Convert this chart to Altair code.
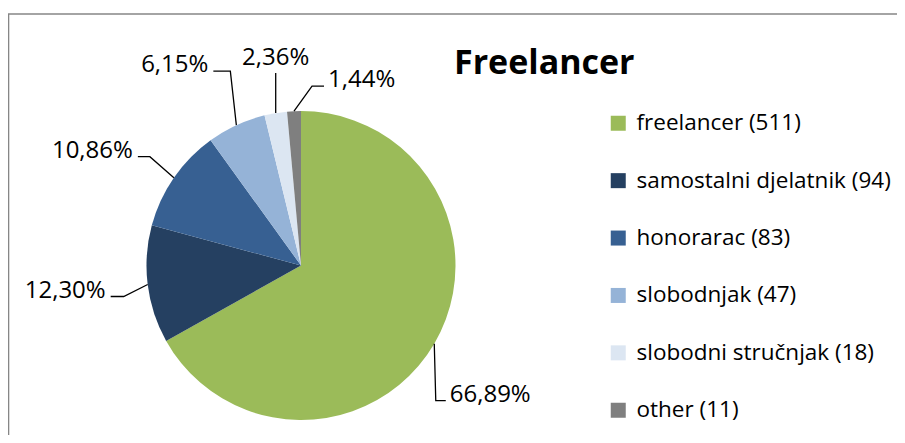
import math
import altair as alt
import pandas as pd

# ---- data ----
categories = ["freelancer", "samostalni djelatnik", "honorarac", "slobodnjak",
              "slobodni stručnjak", "other"]
counts = [511, 94, 83, 47, 18, 11]
percents = [66.89, 12.30, 10.86, 6.15, 2.36, 1.44]
colors = ["#9BBB59", "#254061", "#376092", "#95B3D7", "#DCE6F2", "#7F7F7F"]
title_text = "Freelancer"

# ---- label layout (leader offsets in px relative to slice edge) ----
leader_dx = [1.5, -24, -24, -6, 0, 18]
leader_dy = [57, 12, -21, -54, -40, -25]
stub = [10, -13, -12, -17, 0, 12]
side = ["right", "left", "left", "left", "center", "right"]

FONT = "Open Sans"
W, H = 889, 427
CX, CY, R = 293, 257.5, 154.5

total = sum(counts)
legend_labels = [f"{c} ({n})" for c, n in zip(categories, counts)]
pie = pd.DataFrame({
    "idx": list(range(len(categories))),
    "label": legend_labels,
    "count": counts,
})

# leader lines / labels derived from the slice angles
rows_line, rows_text = [], []
cum = 0
for i, n in enumerate(counts):
    mid = (cum + n / 2) / total
    cum += n
    a = 2 * math.pi * mid
    x0, y0 = CX + R * math.sin(a), CY - R * math.cos(a)
    x1, y1 = x0 + leader_dx[i], y0 + leader_dy[i]
    x2, y2 = x1 + stub[i], y1
    for k, (px, py) in enumerate([(x0, y0), (x1, y1), (x2, y2)]):
        rows_line.append({"s": i, "k": k, "x": px, "y": py})
    pct = f"{percents[i]:.2f}".replace(".", ",") + "%"
    if side[i] == "right":
        tx, ty = x2 + 4, y2 + 1
    elif side[i] == "left":
        tx, ty = x2 - 5, y2 + 1
    else:
        tx, ty = x2, y2 - 8
    rows_text.append({"s": i, "x": tx, "y": ty, "t": pct, "side": side[i]})
lines = pd.DataFrame(rows_line)
texts = pd.DataFrame(rows_text)

arcs = alt.Chart(pie).mark_arc(radius=R, stroke=None).encode(
    theta=alt.Theta("count:Q", stack=True),
    order=alt.Order("idx:Q", sort="ascending"),
    color=alt.Color(
        "label:N",
        scale=alt.Scale(domain=legend_labels, range=colors),
        sort=legend_labels,
        legend=alt.Legend(
            title=None, orient="none", legendX=599, legendY=104,
            symbolType="square", symbolSize=225, symbolStrokeWidth=0,
            labelFont=FONT, labelFontSize=22.5, labelColor="#000000",
            labelLimit=0, labelOffset=7, rowPadding=34.4, padding=0,
        ),
    ),
    x=alt.value(CX),
    y=alt.value(CY),
)

leaders = alt.Chart(lines).mark_line(color="#000000", strokeWidth=1.3).encode(
    x=alt.X("x:Q", scale=None),
    y=alt.Y("y:Q", scale=None),
    detail="s:N",
    order="k:Q",
)

def label_layer(sd, align, baseline):
    return alt.Chart(texts).transform_filter(
        alt.datum.side == sd
    ).mark_text(
        align=align, baseline=baseline, font=FONT, fontSize=24, color="#000000"
    ).encode(
        x=alt.X("x:Q", scale=None), y=alt.Y("y:Q", scale=None), text="t:N"
    )

labels = (label_layer("right", "left", "alphabetic")
          + label_layer("left", "right", "alphabetic")
          + label_layer("center", "center", "alphabetic"))

title = alt.Chart(pd.DataFrame({"t": [title_text]})).mark_text(
    align="left", baseline="alphabetic", font=FONT, fontSize=34,
    fontWeight="bold", color="#000000"
).encode(x=alt.value(446), y=alt.value(66), text="t:N")

frame = alt.Chart(pd.DataFrame({"a": [0]})).mark_rule(
    color="#868686", strokeWidth=1.6
)
frame_top = frame.encode(x=alt.value(0), x2=alt.value(W), y=alt.value(6))
frame_left = frame.encode(x=alt.value(0.5), y=alt.value(6), y2=alt.value(H))

chart = alt.layer(frame_top, frame_left, arcs, leaders, labels, title).properties(
    width=W, height=H, autosize="none", padding=0
).configure_view(stroke=None)

chart.save("out.html", embed_options={"renderer": "svg", "actions": False})
